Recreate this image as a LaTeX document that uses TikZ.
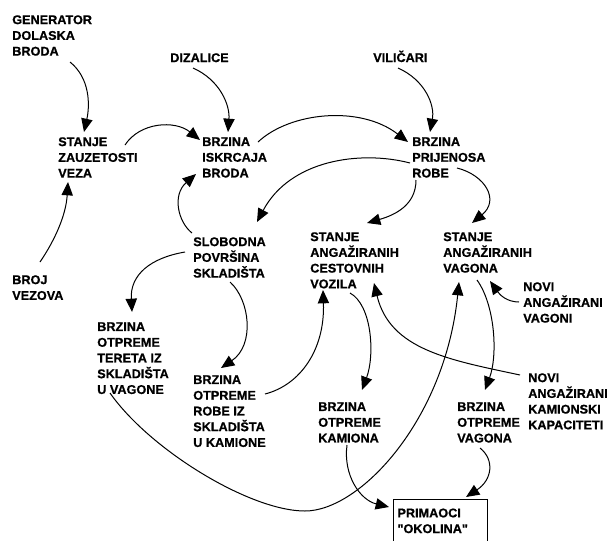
\documentclass[tikz,border=0pt]{standalone}
\usepackage{fontspec}
\setmainfont{Liberation Sans}[BoldFont={Liberation Sans Bold}]
\newfontfamily\lblfont{Liberation Sans Bold}[FakeBold=0.8]
\usetikzlibrary{arrows.meta}
\begin{document}
\begin{tikzpicture}[x=0.75pt,y=-0.75pt,
  lbl/.style={anchor=north west, inner sep=0pt, align=left, font=\lblfont\fontsize{9.5}{11.8}\selectfont},
  arr/.style={-{Triangle[length=10pt,width=8.5pt]}, line width=0.75pt},
  boxnode/.style={lbl, draw, line width=0.75pt, inner xsep=3pt, inner ysep=6.75pt, text width=64.5pt}
]
\useasboundingbox (0,0) rectangle (607,540);
\clip (0,0) rectangle (607,540);
% labels
\node[lbl] (gen) at (12,15) {GENERATOR\\DOLASKA\\BRODA};
\node[lbl] (diz) at (170,53) {DIZALICE};
\node[lbl, anchor=base west] (vil) at (373,62) {VILIČARI};
\node[lbl] (stz) at (58,137) {STANJE\\ZAUZETOSTI\\VEZA};
\node[lbl] (bib) at (202,137) {BRZINA\\ISKRCAJA\\BRODA};
\node[lbl] (bpr) at (412,137) {BRZINA\\PRIJENOSA\\ROBE};
\node[lbl] (broj) at (12,275) {BROJ\\VEZOVA};
\node[lbl] (slob) at (193,237) {SLOBODNA\\POVRŠINA\\SKLADIŠTA};
\node[lbl] (sac) at (310,232) {STANJE\\ANGAŽIRANIH\\CESTOVNIH\\VOZILA};
\node[lbl] (sav) at (443,232) {STANJE\\ANGAŽIRANIH\\VAGONA};
\node[lbl] (novv) at (523,282) {NOVI\\ANGAŽIRANI\\VAGONI};
\node[lbl] (bot) at (97,322) {BRZINA\\OTPREME\\TERETA IZ\\SKLADIŠTA\\U VAGONE};
\node[lbl] (bor) at (193,375) {BRZINA\\OTPREME\\ROBE IZ\\SKLADIŠTA\\U KAMIONE};
\node[lbl] (nok) at (528,373) {NOVI\\ANGAŽIRANI\\KAMIONSKI\\KAPACITETI};
\node[lbl] (bok) at (318,402) {BRZINA\\OTPREME\\KAMIONA};
\node[lbl] (bov) at (457,402) {BRZINA\\OTPREME\\VAGONA};
\node[boxnode] (prim) at (393,499) {PRIMAOCI\\{\char34}OKOLINA{\char34}\\\mbox{}};
% connectors
\draw[arr] ([shift={(58,47)}]gen.north west) .. controls (90,78) and (90,105) .. ([shift={(26,-5)}]stz.north west);
\draw[arr] ([shift={(23,15)}]diz.north west) .. controls (220,80) and (230,105) .. ([shift={(26,-5)}]bib.north west);
\draw[arr] ([shift={(25,6)}]vil.base west) .. controls (425,80) and (435,105) .. ([shift={(18,-5)}]bpr.north west);
\draw[arr] ([shift={(67,8)}]stz.north west) .. controls (140,122) and (175,120) .. ([shift={(-2,3)}]bib.north west);
\draw[arr] ([shift={(28,-13)}]broj.north west) .. controls (55,240) and (66,215) .. ([shift={(10,45)}]stz.north west);
\draw[arr] ([shift={(56,5)}]bib.north west) .. controls (290,112) and (360,105) .. ([shift={(-4,5)}]bpr.north west);
\draw[arr] ([shift={(-2,26)}]bpr.north west) .. controls (360,150) and (290,160) .. ([shift={(64,-15)}]slob.north west);
\draw[arr] ([shift={(4,43)}]bpr.north west) .. controls (416,205) and (395,215) .. ([shift={(57,-9)}]sac.north west);
\draw[arr] ([shift={(45,31)}]bpr.north west) .. controls (485,175) and (500,200) .. ([shift={(29,-9)}]sav.north west);
\draw[arr] ([shift={(-1,-4)}]slob.north west) .. controls (178,222) and (172,195) .. ([shift={(-6,37)}]bib.north west);
\draw[arr] ([shift={(-8,15)}]slob.north west) .. controls (150,258) and (130,275) .. ([shift={(35,-10)}]bot.north west);
\draw[arr] ([shift={(37,45)}]slob.north west) .. controls (250,300) and (255,345) .. ([shift={(28,-7)}]bor.north west);
\draw[arr] ([shift={(72,19)}]bor.north west) .. controls (300,385) and (325,350) .. ([shift={(13,58)}]sac.north west);
\draw[arr] ([shift={(40,61)}]sac.north west) .. controls (372,305) and (375,355) .. ([shift={(44,-12)}]bok.north west);
\draw[arr] ([shift={(-8,2)}]nok.north west) .. controls (450,360) and (390,350) .. ([shift={(64,51)}]sac.north west);
\draw[arr] ([shift={(-4,20)}]novv.north west) .. controls (507,302) and (500,295) .. ([shift={(47,49)}]sav.north west);
\draw[arr] ([shift={(13,71)}]bot.north west) .. controls (150,450) and (250,511) .. (305,511)
  .. controls (360,511) and (445,420) .. ([shift={(16,50)}]sav.north west);
\draw[arr] ([shift={(34,48)}]sav.north west) .. controls (495,305) and (498,355) .. ([shift={(28,-12)}]bov.north west);
\draw[arr] ([shift={(29,43)}]bok.north west) .. controls (343,475) and (360,500) .. ([shift={(-4,8)}]prim.north west);
\draw[arr] ([shift={(23,46)}]bov.north west) .. controls (495,460) and (492,480) .. ([shift={(73,-2)}]prim.north west);
\end{tikzpicture}
\end{document}
